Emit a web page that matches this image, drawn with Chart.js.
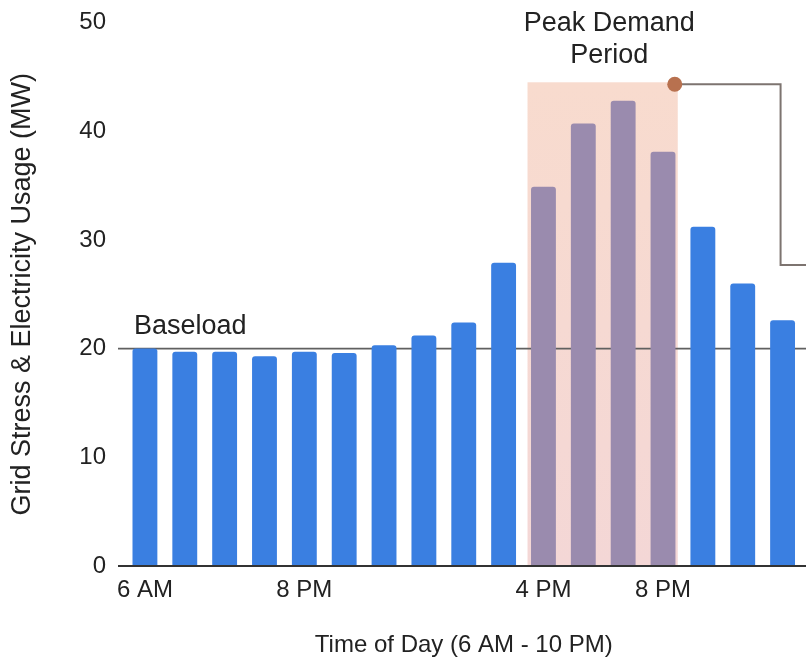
<!DOCTYPE html>
<html>
<head>
<meta charset="utf-8">
<script src="https://cdn.jsdelivr.net/npm/chart.js@4.4.1/dist/chart.umd.min.js"></script>
<style>
  html, body { margin: 0; padding: 0; background: #fff; overflow: hidden; }
  #wrap { width: 806px; height: 660px; position: relative; }
</style>
</head>
<body>
<div id="wrap"><canvas id="gridChart"></canvas></div>
<script>
// data
var hourLabels = ['6 AM', '', '', '', '8 PM', '', '', '', '', '', '4 PM', '', '', '8 PM', '', '', ''];
var usageMW = [20.0, 19.7, 19.7, 19.3, 19.7, 19.6, 20.3, 21.2, 22.4, 27.9, 34.9, 40.7, 42.8, 38.1, 31.2, 26.0, 22.6];
var yTicks = [0, 10, 20, 30, 40, 50];
var baseloadMW = 20;
var peakStart = 10;
var peakEnd = 13;
var peakTopMW = 44.5;
var connectorDropMW = 27.7;

var blue = '#3a7fe1';
var peakBar = '#9a8bae';
var barColors = usageMW.map(function (v, i) {
  return (i >= peakStart && i <= peakEnd) ? peakBar : blue;
});

var FONT = "'Liberation Sans', Arial, Helvetica, sans-serif";

// extra drawing: peak box, baseload line, axis line, notes
var annotations = {
  id: 'annotations',
  beforeDatasetsDraw: function (chart) {
    var ctx = chart.ctx;
    var x = chart.scales.x, y = chart.scales.y;
    var step = x.getPixelForValue(1) - x.getPixelForValue(0);
    var left = x.getPixelForValue(peakStart) - 0.4 * step;
    var right = x.getPixelForValue(peakEnd) + 0.37 * step;
    var top = y.getPixelForValue(peakTopMW);
    var bottom = y.getPixelForValue(0);

    ctx.save();
    var grad = ctx.createLinearGradient(0, top, 0, bottom);
    grad.addColorStop(0, '#f8dbce');
    grad.addColorStop(1, '#f4d7d6');
    ctx.fillStyle = grad;
    ctx.fillRect(left, top, right - left, bottom - top);

    var by = y.getPixelForValue(baseloadMW);
    ctx.strokeStyle = '#606060';
    ctx.lineWidth = 1.6;
    ctx.beginPath();
    ctx.moveTo(chart.chartArea.left - 7, by);
    ctx.lineTo(chart.width, by);
    ctx.stroke();
    ctx.restore();
  },
  afterDatasetsDraw: function (chart) {
    var ctx = chart.ctx;
    var x = chart.scales.x, y = chart.scales.y;
    var step = x.getPixelForValue(1) - x.getPixelForValue(0);
    var right = x.getPixelForValue(peakEnd) + 0.37 * step;
    var top = y.getPixelForValue(peakTopMW);
    var bottom = y.getPixelForValue(0);

    ctx.save();
    // x axis line
    ctx.strokeStyle = '#333';
    ctx.lineWidth = 2;
    ctx.beginPath();
    ctx.moveTo(chart.chartArea.left - 7, bottom);
    ctx.lineTo(chart.width, bottom);
    ctx.stroke();

    // connector from the peak box
    var cx = right - 3, cy = top + 2;
    var dropX = x.getPixelForValue(usageMW.length - 1) - 2;
    var dropY = y.getPixelForValue(connectorDropMW);
    ctx.strokeStyle = '#7d7470';
    ctx.lineWidth = 2;
    ctx.beginPath();
    ctx.moveTo(cx, cy);
    ctx.lineTo(dropX, cy);
    ctx.lineTo(dropX, dropY);
    ctx.lineTo(chart.width, dropY);
    ctx.stroke();

    ctx.fillStyle = '#b8714f';
    ctx.beginPath();
    ctx.arc(cx, cy, 7.5, 0, Math.PI * 2);
    ctx.fill();

    // notes
    ctx.fillStyle = '#222';
    ctx.font = '27px ' + FONT;
    ctx.textBaseline = 'alphabetic';
    ctx.textAlign = 'left';
    ctx.fillText('Baseload', chart.chartArea.left + 9, y.getPixelForValue(baseloadMW) - 15);

    ctx.textAlign = 'center';
    var mid = (x.getPixelForValue(peakStart) + x.getPixelForValue(peakEnd)) / 2 + 6;
    ctx.fillText('Peak Demand', mid, 31);
    ctx.fillText('Period', mid, 63);
    ctx.restore();
  }
};

new Chart(document.getElementById('gridChart'), {
  type: 'bar',
  data: {
    labels: hourLabels,
    datasets: [{
      label: 'Usage (MW)',
      data: usageMW,
      backgroundColor: barColors,
      borderRadius: 3,
      barPercentage: 0.78,
      categoryPercentage: 0.8
    }]
  },
  options: {
    responsive: true,
    maintainAspectRatio: false,
    animation: false,
    layout: { padding: { top: 22.5, right: 3.5, bottom: 0, left: 0 } },
    plugins: {
      legend: { display: false },
      tooltip: { enabled: false }
    },
    scales: {
      x: {
        afterFit: function (scale) { scale.height = 94; },
        grid: { display: false },
        border: { display: false },
        ticks: {
          autoSkip: false,
          maxRotation: 0,
          padding: 2,
          color: '#222',
          font: { family: FONT, size: 24 }
        },
        title: {
          display: true,
          text: 'Time of Day (6 AM - 10 PM)',
          color: '#222',
          font: { family: FONT, size: 24 },
          padding: { top: 17, bottom: 0 }
        }
      },
      y: {
        min: 0,
        max: 50,
        afterFit: function (scale) {
          scale.width = 125;
          scale.paddingTop = 0;
          scale.paddingBottom = 0;
        },
        afterBuildTicks: function (scale) {
          scale.ticks = yTicks.map(function (v) { return { value: v }; });
        },
        grid: { display: false, drawTicks: false },
        border: { display: false },
        ticks: {
          padding: 19,
          color: '#222',
          font: { family: FONT, size: 24 }
        },
        title: {
          display: true,
          text: 'Grid Stress & Electricity Usage (MW)',
          color: '#222',
          font: { family: FONT, size: 27 },
          padding: { top: 6, bottom: 0 }
        }
      }
    }
  },
  plugins: [annotations]
});
</script>
</body>
</html>
